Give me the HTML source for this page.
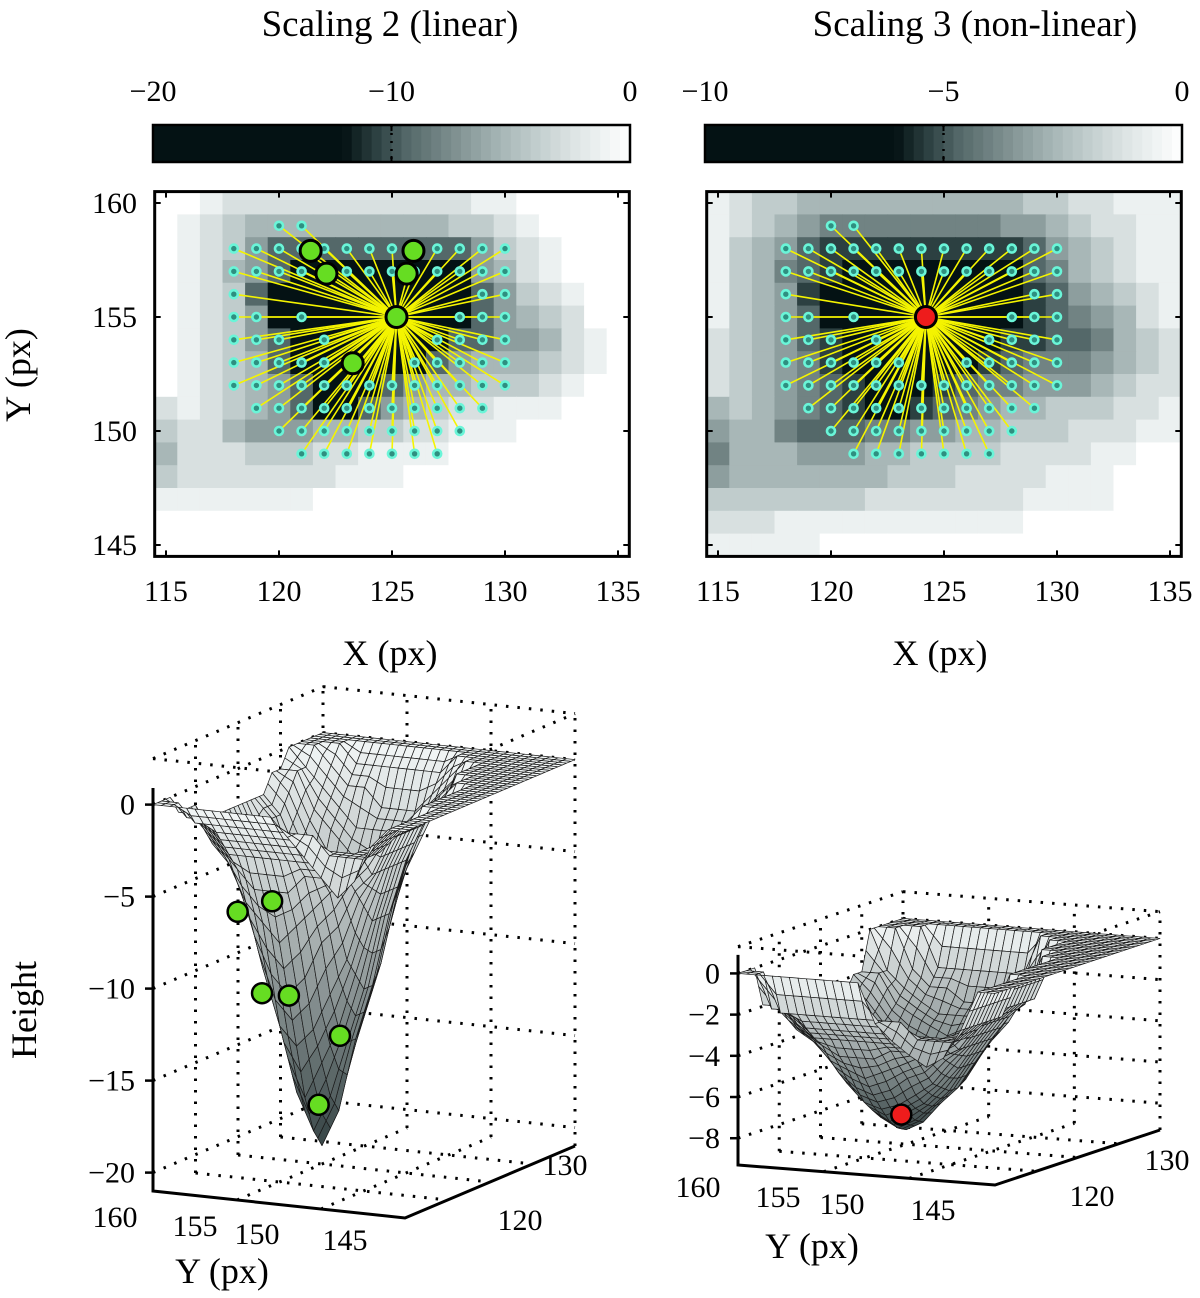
<!DOCTYPE html>
<html><head><meta charset="utf-8"><style>
html,body{margin:0;padding:0;background:#fff;}
svg{display:block;font-family:"Liberation Serif",serif;}
</style></head><body>
<svg id="fig" width="1200" height="1298" viewBox="0 0 1200 1298" xmlns="http://www.w3.org/2000/svg">
<text x="390" y="36" font-size="37" text-anchor="middle">Scaling 2 (linear)</text>
<text x="975" y="36" font-size="37" text-anchor="middle">Scaling 3 (non-linear)</text>
<text x="30" y="375" font-size="36" text-anchor="middle" transform="rotate(-90 30 375)">Y (px)</text>
<text x="390" y="665" font-size="36" text-anchor="middle">X (px)</text>
<text x="940" y="665" font-size="36" text-anchor="middle">X (px)</text>
<text x="36" y="1010" font-size="36" text-anchor="middle" transform="rotate(-90 36 1010)">Height</text>
<text x="222" y="1283" font-size="36" text-anchor="middle">Y (px)</text>
<text x="812" y="1258" font-size="36" text-anchor="middle">Y (px)</text>
</svg>
<script>
const xVals=[115,116,117,118,119,120,121,122,123,124,125,126,127,128,129,130,131,132,133,134,135];
const yVals=[160,159,158,157,156,155,154,153,152,151,150,149,148,147,146,145];
const darkLinear=["001222222222221100000","012344444444433210000","012357777777775321000","012457999999995421000","012379999999997532100","012359999999997543200","012357999999977554210","012347999999754443210","012345799975443332100","212345799754322111000","322455544332211100000","422233322111100000000","322222221110000000000","111111100000000000000","000000000000000000000","000000000000000000000"];
const darkNonlinear=["123344444444443322111","123456666666655432211","134578888888887543211","134678999999997643211","134589999999998754321","134579999999998765421","234578999999988776432","234568999999876665432","234567899987665554322","434567899876544333221","544677766554433322211","644455544333322221100","544444443332222111000","333333322222221111000","222111111111110000000","111110000000000000000"];
const depthLinear=[
[0,0,0,1,1,1,2,2,2,2,2,2,2,2,1,1,0,0,0,0,0],
[0,0,1,1,2,3,3,4,4,4,4,4,3,3,2,1,1,0,0,0,0],
[0,1,1,2,3,4,5,6,7,7,7,7,6,5,4,3,2,1,0,0,0],
[0,1,2,3,4,6,8,10,11,12,12,11,10,8,6,4,3,2,1,0,0],
[0,1,2,3,5,7,10,13,15,17,18,16,13,10,7,5,4,2,1,0,0],
[0,1,2,3,5,8,11,14,17,19,20,18,14,11,8,6,4,3,1,0,0],
[0,1,2,3,5,7,10,13,15,17,18,16,13,10,7,5,4,3,1,0,0],
[0,1,2,3,4,6,8,11,13,14,14,13,11,8,6,5,4,3,1,0,0],
[1,1,2,3,4,5,7,9,10,11,11,10,8,6,5,4,3,2,1,0,0],
[2,1,2,3,3,4,5,6,7,7,7,6,5,4,3,2,2,1,0,0,0],
[3,2,2,3,3,3,4,4,4,4,4,3,3,2,2,1,1,0,0,0,0],
[4,2,2,2,2,2,2,2,2,2,2,1,1,1,0,0,0,0,0,0,0],
[3,2,2,2,1,1,1,1,1,1,1,1,0,0,0,0,0,0,0,0,0],
[1,1,1,1,1,1,0,0,0,0,0,0,0,0,0,0,0,0,0,0,0],
[0,0,0,0,0,0,0,0,0,0,0,0,0,0,0,0,0,0,0,0,0],
[0,0,0,0,0,0,0,0,0,0,0,0,0,0,0,0,0,0,0,0,0]];
const markerRowY=[159,158,157,156,155,154,153,152,151,150,149];
const markerRowX=[[120,121],[118,119,120,121,122,123,124,125,126,127,128,129,130],[118,119,120,121,122,123,124,125,126,127,128,129,130],[118,129,130],[118,119,121,128,129,130],[118,119,120,122,127,128,129,130],[118,119,120,121,122,123,126,127,128,129,130],[118,119,120,121,122,123,124,125,126,127,128,129,130],[119,120,121,122,123,124,125,126,127,128,129],[120,121,122,123,124,125,126,127,128],[121,122,123,124,125,126,127]];
const greenX=[121.4,122.1,125.95,125.65,123.26,125.2];
const greenY=[157.9,156.9,157.9,156.9,152.97,155];
const redX=[124.2];
const redY=[155];
const green3dX=[121.4,122.1,125.95,125.65,123.26,125.2];
const green3dY=[158.2,156.5,159.05,157.3,153.05,155.3];
const green3dZ=[-6.9,-6.3,-12.3,-12.2,-13.5,-17.85];
const red3dX=[124.2];
const red3dY=[154.9];
const red3dZ=[-7.75];
const cbLeftTicks=[-20,-10,0];
const cbRightTicks=[-10,-5,0];
const heatXTicks=[115,120,125,130,135];
const heatYTicks=[145,150,155,160];
const zTicksLeft=[0,-5,-10,-15,-20];
const zTicksRight=[0,-2,-4,-6,-8];

const NS="http://www.w3.org/2000/svg";
const svg=document.getElementById("fig");
function mk(tag,attrs,parent){const e=document.createElementNS(NS,tag);for(const k in attrs)e.setAttribute(k,attrs[k]);(parent||svg).appendChild(e);return e;}
const pal=[[255,255,255],[236,241,241],[216,224,224],[192,204,204],[168,183,183],[141,158,158],[113,131,131],[84,104,105],[44,64,65],[4,18,20]];
function palColor(d){d=Math.max(0,Math.min(9,d));const i=Math.min(8,Math.floor(d)),f=d-i;const a=pal[i],b=pal[i+1];return "rgb("+a.map((v,k)=>Math.round(v+(b[k]-v)*f)).join(",")+")";}
function parseMat(rows){return rows.map(r=>r.split("").map(Number));}
const matL=parseMat(darkLinear), matR=parseMat(darkNonlinear);
const depthNonlinear=depthLinear.map(r=>r.map(v=>8.6*Math.sqrt(v/20)));

function drawHeat(off,mat,name,cbMin,cbTicks){
  const xs=X=>166+off+(X-115)*22.6, ys=Y=>203+(160-Y)*22.8;
  const g=mk("g",{});
  
  
  yVals.forEach((Y,r)=>xVals.forEach((X,c)=>{
    const rc=mk("rect",{x:xs(X-0.5),y:ys(Y+0.5),width:23.2,height:23.4,fill:palColor(mat[r][c])},g);
    
    
  }));
  const fr=mk("rect",{x:xs(114.5),y:ys(160.5),width:xs(135.5)-xs(114.5),height:ys(144.5)-ys(160.5),fill:"none",stroke:"#000","stroke-width":3});
  
  
  heatXTicks.forEach(X=>{
    mk("line",{x1:xs(X),x2:xs(X),y1:ys(160.5),y2:ys(160.5)+6,stroke:"#000","stroke-width":2},g);
    mk("line",{x1:xs(X),x2:xs(X),y1:ys(144.5),y2:ys(144.5)-6,stroke:"#000","stroke-width":2},g);
    const t=mk("text",{x:xs(X),y:601,"font-size":30,"text-anchor":"middle"});
    t.textContent=X;
    
    
  });
  heatYTicks.forEach(Y=>{
    mk("line",{x1:xs(114.5),x2:xs(114.5)+6,y1:ys(Y),y2:ys(Y),stroke:"#000","stroke-width":2},g);
    mk("line",{x1:xs(135.5),x2:xs(135.5)-6,y1:ys(Y),y2:ys(Y),stroke:"#000","stroke-width":2},g);
    if(off===0){const t=mk("text",{x:137,y:ys(Y)+10,"font-size":30,"text-anchor":"end"});
    t.textContent=Y;
    
    }
  });
  const cx0=153+off,cx1=630+off,cb=mk("g",{});
  
  
  const N=48;
  for(let i=0;i<N;i++){const t=(i+0.5)/N;const d=t<0.31?9:9*(1-(t-0.31)/0.69);
    mk("rect",{x:cx0+(cx1-cx0)*i/N,y:125,width:(cx1-cx0)/N+0.6,height:37,fill:palColor(Math.min(9,d*1.15))},cb);}
  mk("rect",{x:cx0,y:125,width:cx1-cx0,height:37,fill:"none",stroke:"#000","stroke-width":2.5},cb);
  mk("line",{x1:(cx0+cx1)/2,x2:(cx0+cx1)/2,y1:125,y2:162,stroke:"#000","stroke-width":2.5,"stroke-dasharray":"2,6"},cb);
  cbTicks.forEach(v=>{const x=cx0+(v-cbMin)/(0-cbMin)*(cx1-cx0);
    mk("line",{x1:x,x2:x,y1:125,y2:131,stroke:"#000","stroke-width":2},cb);
    mk("line",{x1:x,x2:x,y1:162,y2:156,stroke:"#000","stroke-width":2},cb);
    const t=mk("text",{x:x,y:101,"font-size":30,"text-anchor":"middle"});
    t.textContent=v<0?"−"+(-v):String(v);
    
    
  });
  return {xs,ys,g};
}
function drawRays(H,cx,cy,name){
  const g=mk("g",{});
  
  
  markerRowY.forEach((Y,i)=>markerRowX[i].forEach(X=>{
    const l=mk("line",{x1:H.xs(cx),y1:H.ys(cy),x2:H.xs(X),y2:H.ys(Y),stroke:"#f4f400","stroke-width":1.6},g);
    
    
  }));
  markerRowY.forEach((Y,i)=>markerRowX[i].forEach(X=>{
    const c=mk("circle",{cx:H.xs(X),cy:H.ys(Y),r:4,fill:"#2f8f80",stroke:"#6af5d8","stroke-width":2.6},g);
    
    
  }));
}
const HL=drawHeat(0,matL,"heatmap-linear",-20,cbLeftTicks);
const HR=drawHeat(552,matR,"heatmap-nonlinear",-10,cbRightTicks);
drawRays(HL,greenX[5],greenY[5],"rays-linear");
drawRays(HR,redX[0],redY[0],"rays-nonlinear");
greenX.forEach((X,i)=>{
  const c=mk("circle",{cx:HL.xs(X),cy:HL.ys(greenY[i]),r:10.5,fill:"#66dd22",stroke:"#000","stroke-width":3});
  
  
});
redX.forEach((X,i)=>{
  const c=mk("circle",{cx:HR.xs(X),cy:HR.ys(redY[i]),r:10.5,fill:"#ee1c1c",stroke:"#000","stroke-width":3});
  
  
});

function draw3D(p,mat,name,zTicks,pts,ptColor){
  const P=(X,Y,Z)=>{const u=(X-115)/20,v=(160-Y)/15;return [p.ox+v*p.yv[0]+u*p.xv[0],p.oy+v*p.yv[1]+u*p.xv[1]-(Z-p.zmin)*p.zs];};
  const Zat=(X,Y)=>{const c=X-115,r=160-Y;const c0=Math.min(19,Math.floor(c)),r0=Math.min(14,Math.floor(r));const fc=c-c0,fr=r-r0;
    const z=(rr,cc)=>-mat[rr][cc];
    return z(r0,c0)*(1-fc)*(1-fr)+z(r0,c0+1)*fc*(1-fr)+z(r0+1,c0)*(1-fc)*fr+z(r0+1,c0+1)*fc*fr;};
  const g=mk("g",{});
  
  
  const dot={stroke:"#000","stroke-width":3,"stroke-dasharray":"2.5,9",fill:"none"};
  const L=(a,b,nm)=>{const e=mk("line",Object.assign({x1:a[0],y1:a[1],x2:b[0],y2:b[1]},dot),g);};
  const zt=p.ztop;
  [120,125,130,135].forEach(X=>L(P(X,160,p.zmin),P(X,160,zt),'grid-line'));
  [155,150,145].forEach(Y=>L(P(135,Y,p.zmin),P(135,Y,zt),'grid-line'));
  zTicks.concat([zt]).forEach(Z=>{L(P(115,160,Z),P(135,160,Z),'grid-line');L(P(135,160,Z),P(135,145,Z),'grid-line');});
  [120,125,130].forEach(X=>L(P(X,160,p.zmin),P(X,145,p.zmin),'grid-line'));
  [155,150].forEach(Y=>L(P(115,Y,p.zmin),P(135,Y,p.zmin),'grid-line'));
  L(P(115,160,zt),P(115,145,zt),'grid-line');L(P(115,145,zt),P(135,145,zt),'grid-line');
  L(P(135,145,p.zmin),P(135,145,zt),'grid-line');
  const q=[];const st=0.5;
  let maxD=0;mat.forEach(r=>r.forEach(v=>{if(v>maxD)maxD=v;}));
  for(let X=115;X<135;X+=st)for(let Y=145;Y<160;Y+=st){
    const zs=[Zat(X,Y),Zat(X+st,Y),Zat(X+st,Y+st),Zat(X,Y+st)];
    const u=(X+st/2-115)/20,v=(160-Y-st/2)/15;
    q.push({X,Y,zs,depth:u*Math.abs(p.xv[1])+(1-v)*Math.abs(p.yv[1])});
  }
  q.sort((a,b)=>b.depth-a.depth);
  q.forEach(o=>{
    const pts4=[P(o.X,o.Y,o.zs[0]),P(o.X+st,o.Y,o.zs[1]),P(o.X+st,o.Y+st,o.zs[2]),P(o.X,o.Y+st,o.zs[3])];
    const za=(o.zs[0]+o.zs[1]+o.zs[2]+o.zs[3])/4;const t=-za/maxD;
    const c0=[242,246,246],c1=[52,66,67];
    const col="rgb("+c0.map((v,k)=>Math.round(v+(c1[k]-v)*t)).join(",")+")";
    const pg=mk("polygon",{points:pts4.map(a=>a[0].toFixed(1)+","+a[1].toFixed(1)).join(" "),fill:col,stroke:"#1a1a1a","stroke-width":0.7,"stroke-linejoin":"round"},g);
    
    
  });
  const ax=mk("polyline",{points:[P(115,160,0.9),P(115,160,p.zmin),P(115,145,p.zmin),P(135,145,p.zmin)].map(a=>a.join(",")).join(" "),fill:"none",stroke:"#000","stroke-width":3},g);
  
  
  zTicks.forEach(Z=>{const a=P(115,160,Z);
    mk("line",{x1:a[0]-8,x2:a[0],y1:a[1],y2:a[1],stroke:"#000","stroke-width":2.5},g);
    const t=mk("text",{x:a[0]-18,y:a[1]+10,"font-size":30,"text-anchor":"end"});
    t.textContent=Z<0?"−"+(-Z):String(Z);
    
    
  });
  pts.X.forEach((X,i)=>{const a=P(X,pts.Y[i],pts.Z[i]);
    const c=mk("circle",{cx:a[0],cy:a[1],r:10,fill:ptColor,stroke:"#000","stroke-width":2.5},g);
    
    
  });
}
draw3D({ox:153,oy:1191,yv:[252,27],xv:[170,-72],zmin:-21,zs:18.4,ztop:2.5},depthLinear,"surface-linear",zTicksLeft,{X:green3dX,Y:green3dY,Z:green3dZ},"#66dd22");
draw3D({ox:738,oy:1165,yv:[257,20],xv:[165,-55],zmin:-9.3,zs:20.6,ztop:1.3},depthNonlinear,"surface-nonlinear",zTicksRight,{X:red3dX,Y:red3dY,Z:red3dZ},"#ee1c1c");

const labs=[["160",115,1227],["155",195,1236],["150",257,1244],["145",345,1250],["120",520,1230],["130",565,1175],
["160",698,1197],["155",778,1207],["150",842,1214],["145",933,1220],["120",1092,1206],["130",1167,1170]];
labs.forEach(l=>{const t=mk("text",{x:l[1],y:l[2],"font-size":30,"text-anchor":"middle"});
  t.textContent=l[0];
  
  
});
</script>
</body></html>
